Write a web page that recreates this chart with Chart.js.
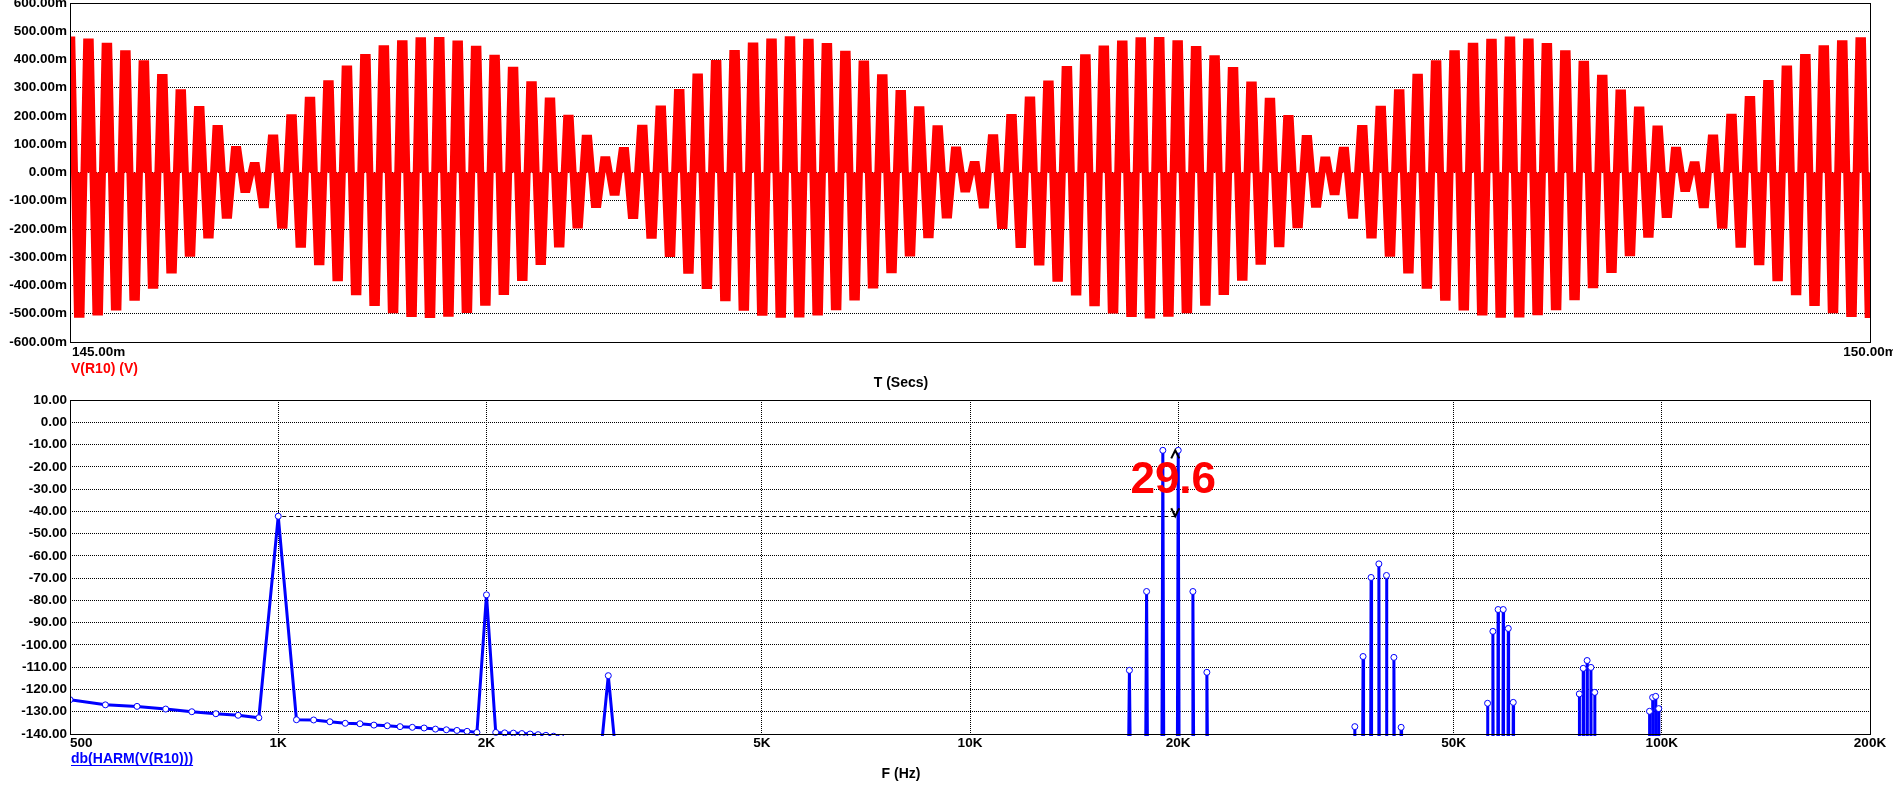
<!DOCTYPE html>
<html><head><meta charset="utf-8">
<script src="https://cdn.jsdelivr.net/npm/chart.js@4/dist/chart.umd.min.js"></script>
<style>
html,body{margin:0;padding:0;background:#fff;width:1893px;height:796px;overflow:hidden}
canvas{position:absolute;left:0}
#c1{top:0}
#c2{top:392px}
</style></head><body>
<canvas id="c1" width="1893" height="392"></canvas>
<canvas id="c2" width="1893" height="404"></canvas>
<script>
// ---------------- DATA: top panel, V(R10) transient (values in mV) ----------------
const timeStartMs = 145;
const timeEndMs = 150;
const timeTicksMs = [145, 150];
const voltTicksMv = [-600,-500,-400,-300,-200,-100,0,100,200,300,400,500,600];
const carrierPeriodMs = 0.05128;           // ~19.5 kHz carrier read from the lobe spacing
// positive lobe peaks (mV), one per carrier cycle
const posPeaks = [469,462,447,420,385,336,282,223,156,81,25,122,194,256,314,366,407,438,456,466,
 467,455,436,404,362,311,253,192,121,45,78,157,225,283,338,386,421,448,462,470,
 461,446,419,384,335,280,222,155,80,28,123,195,257,313,365,406,437,455,466,467,
 456,435,403,361,310,252,191,120,44,79,156,224,282,337,385,420,447,461,469,462,
 446,420,383,334,281,221,154,79,27,122,196,258,315,366,407,438,456,466];
// negative lobe peaks (mV), half a cycle after each positive one
const negPeaks = [-502,-494,-476,-442,-399,-345,-286,-221,-151,-60,-114,-187,-254,-316,-373,-422,-460,-486,-499,-503,
 -498,-485,-459,-421,-372,-315,-253,-186,-113,-70,-152,-222,-287,-346,-400,-443,-477,-495,-502,-501,
 -494,-475,-441,-398,-344,-285,-220,-150,-58,-115,-188,-255,-317,-374,-423,-461,-487,-499,-504,-498,
 -486,-459,-421,-371,-314,-252,-185,-112,-68,-151,-221,-286,-345,-399,-442,-476,-494,-502,-501,-493,
 -475,-440,-397,-343,-284,-219,-149,-57,-114,-187,-254,-316,-373,-422,-460,-486,-499,-503];

// ---------------- DATA: bottom panel, db(HARM(V(R10))) ----------------
const freqTicksHz = [500,1000,2000,5000,10000,20000,50000,100000,200000];
const freqTickLabels = ['500','1K','2K','5K','10K','20K','50K','100K','200K'];
const dbTicks = [10,0,-10,-20,-30,-40,-50,-60,-70,-80,-90,-100,-110,-120,-130,-140];
const harmFreqHz = [
 500,562.5,625,687.5,750,812.5,875,937.5,
 1000,1062.5,1125,1187.5,1250,1312.5,1375,1437.5,1500,1562.5,1625,1687.5,1750,1812.5,1875,1937.5,
 2000,2062.5,2125,2187.5,2250,2312.5,2375,2437.5,2500,2562.5,2625,
 2937.5,3000,3062.5,
 16937.5,17000,17062.5,17937.5,18000,18062.5,18937.5,19000,19062.5,19937.5,20000,20062.5,20937.5,21000,21062.5,21937.5,22000,22062.5,
 35937.5,36000,36062.5,36937.5,37000,37062.5,37937.5,38000,38062.5,38937.5,39000,39062.5,39937.5,40000,40062.5,40937.5,41000,41062.5,41937.5,42000,42062.5,
 55937.5,56000,56062.5,56937.5,57000,57062.5,57937.5,58000,58062.5,58937.5,59000,59062.5,59937.5,60000,60062.5,60937.5,61000,61062.5,
 75937.5,76000,76062.5,76937.5,77000,77062.5,77937.5,78000,78062.5,78937.5,79000,79062.5,79937.5,80000,80062.5,
 95937.5,96000,96062.5,96937.5,97000,97062.5,97937.5,98000,98062.5,98937.5,99000,99062.5
];
const harmDb = [
 -124.6,-126.9,-127.6,-128.8,-130.0,-130.9,-131.6,-132.7,
 -42.2,-133.6,-133.7,-134.5,-135.2,-135.4,-136.0,-136.3,-136.7,-137.0,-137.3,-137.8,-138.1,-138.4,-138.8,-139.3,
 -77.5,-139.3,-139.5,-139.6,-139.8,-140.0,-140.3,-140.6,-141.0,-141.5,-142.5,
 -143,-113.8,-143,
 -160,-111.4,-160,-160,-76.0,-160,-160,-12.6,-160,-160,-12.6,-160,-160,-76.0,-160,-160,-112.3,-160,
 -160,-136.7,-160,-160,-105.2,-160,-160,-69.7,-160,-160,-63.6,-160,-160,-68.8,-160,-160,-105.6,-160,-160,-137.0,-160,
 -160,-126.2,-160,-160,-93.9,-160,-160,-84.1,-160,-160,-84.1,-160,-160,-92.6,-160,-160,-125.8,-160,
 -160,-122.0,-160,-160,-110.5,-160,-160,-107.0,-160,-160,-110.1,-160,-160,-121.3,-160,
 -160,-129.8,-160,-160,-123.6,-160,-160,-123.1,-160,-160,-128.6,-160
];
// cursor annotation: reference level (1K) and measured peak (20K), difference label
const refPoint = [1000, -42.2];
const peakPoint = [20000, -12.6];
const deltaLabel = '29.6';

// ---------------- styling ----------------
const FAMILY = '"Liberation Sans", Arial, sans-serif';
const TICK_FONT = 'bold 13.5px ' + FAMILY;
const LABEL_FONT = 'bold 14px ' + FAMILY;
const plateauMs = 0.005;
Chart.defaults.font.family = FAMILY;

function drawText(ctx, txt, x, y, font, color, align) {
  ctx.save();
  ctx.font = font; ctx.fillStyle = color || '#000';
  ctx.textAlign = align || 'left'; ctx.textBaseline = 'middle';
  ctx.fillText(txt, x, y);
  ctx.restore();
}
const boxPlugin = {
  id: 'box',
  afterDatasetsDraw(chart) {
    const a = chart.chartArea, ctx = chart.ctx;
    ctx.save(); ctx.strokeStyle = '#000'; ctx.lineWidth = 1;
    ctx.strokeRect(Math.round(a.left) + 0.5, Math.round(a.top) + 0.5, Math.round(a.right - a.left), Math.round(a.bottom - a.top));
    ctx.restore();
  }
};
function yAxis(min, max, ticks, fmt) {
  return {
    type: 'linear', min, max,
    afterBuildTicks(s) { s.ticks = ticks.map(v => ({value: v})); },
    ticks: {callback: fmt, color: '#000', font: {family: FAMILY, size: 13.5, weight: 'bold'}, padding: 3, autoSkip: false},
    grid: {color: '#000', lineWidth: 1, drawTicks: false},
    border: {display: false, dash: [1, 1]},
    afterFit(s) { s.width = 70; s.paddingTop = 0; s.paddingBottom = 0; }
  };
}

// ---------------- top chart ----------------
const wave = [];
for (let k = 0; k < posPeaks.length; k++) {
  const tp = timeStartMs + k * carrierPeriodMs;
  wave.push({x: tp - plateauMs, y: posPeaks[k]}, {x: tp + plateauMs, y: posPeaks[k]});
  if (k < negPeaks.length) {
    const tn = tp + carrierPeriodMs / 2;
    wave.push({x: tn - plateauMs, y: negPeaks[k]}, {x: tn + plateauMs, y: negPeaks[k]});
  }
}
const topLabels = {
  id: 'topLabels',
  afterDraw(chart) {
    const ctx = chart.ctx, xs = chart.scales.x, b = chart.chartArea.bottom, l = chart.chartArea.left;
    const f = v => v.toFixed(2) + 'm';
    drawText(ctx, f(timeTicksMs[0]), xs.getPixelForValue(timeTicksMs[0]) + 2, b + 10, TICK_FONT, '#000', 'left');
    drawText(ctx, f(timeTicksMs[1]), xs.getPixelForValue(timeTicksMs[1]), b + 10, TICK_FONT, '#000', 'center');
    drawText(ctx, 'V(R10) (V)', l + 1, b + 27.5, LABEL_FONT, '#ff0000', 'left');
    drawText(ctx, 'T (Secs)', 901, b + 41, LABEL_FONT, '#000', 'center');
  }
};
new Chart(document.getElementById('c1'), {
  type: 'line',
  data: {datasets: [{
    data: wave, borderColor: '#ff0000', backgroundColor: '#ff0000', borderWidth: 7,
    pointRadius: 0, fill: 'origin', tension: 0, clip: 0
  }]},
  options: {
    responsive: false, animation: false, events: [], devicePixelRatio: 1,
    layout: {padding: {top: 3, right: 23, left: 0, bottom: 0}},
    plugins: {legend: {display: false}, tooltip: {enabled: false}, title: {display: false}},
    scales: {
      x: {type: 'linear', min: timeStartMs, max: timeEndMs,
          ticks: {display: false}, grid: {display: false, drawTicks: false}, border: {display: false},
          afterFit(s) { s.height = 50; s.paddingLeft = 0; s.paddingRight = 0; }},
      y: yAxis(-600, 600, voltTicksMv, v => v.toFixed(2) + 'm')
    }
  },
  plugins: [boxPlugin, topLabels]
});

// ---------------- bottom chart ----------------
const harmPoints = harmFreqHz.map((f, i) => ({x: f, y: harmDb[i]}));
const bottomLabels = {
  id: 'bottomLabels',
  afterDraw(chart) {
    const ctx = chart.ctx, xs = chart.scales.x, b = chart.chartArea.bottom, l = chart.chartArea.left;
    freqTicksHz.forEach((f, i) => {
      const px = xs.getPixelForValue(f);
      drawText(ctx, freqTickLabels[i], px, b + 9, TICK_FONT, '#000', i === 0 ? 'left' : 'center');
    });
    const txt = 'db(HARM(V(R10)))';
    drawText(ctx, txt, l + 1, b + 25, LABEL_FONT, '#0000ff', 'left');
    ctx.save(); ctx.font = LABEL_FONT;
    const w = ctx.measureText(txt).width;
    ctx.strokeStyle = '#0000ff'; ctx.lineWidth = 1;
    ctx.beginPath(); ctx.moveTo(l + 1, b + 31.5); ctx.lineTo(l + 1 + w, b + 31.5); ctx.stroke();
    ctx.restore();
    drawText(ctx, 'F (Hz)', 901, b + 40, LABEL_FONT, '#000', 'center');
  }
};
const annot = {
  id: 'annot',
  beforeDatasetsDraw(chart) {
    const {ctx, scales: {x, y}} = chart;
    const x1 = x.getPixelForValue(refPoint[0]) + 4;
    const x2 = x.getPixelForValue(peakPoint[0]) - 3;
    const yr = Math.round(y.getPixelForValue(refPoint[1])) + 0.5;
    ctx.save(); ctx.strokeStyle = '#000'; ctx.lineWidth = 1; ctx.setLineDash([4, 3]);
    ctx.beginPath(); ctx.moveTo(x1, yr); ctx.lineTo(x2, yr); ctx.stroke();
    ctx.restore();
  },
  afterDatasetsDraw(chart) {
    const {ctx, scales: {x, y}} = chart;
    const xa = x.getPixelForValue(peakPoint[0]) - 3;
    const yTop = y.getPixelForValue(peakPoint[1]);
    const yBot = y.getPixelForValue(refPoint[1]);
    ctx.save(); ctx.strokeStyle = '#000'; ctx.lineWidth = 2;
    ctx.beginPath();
    ctx.moveTo(xa - 4, yTop + 8); ctx.lineTo(xa, yTop); ctx.lineTo(xa + 4, yTop + 8);
    ctx.moveTo(xa - 4, yBot - 8); ctx.lineTo(xa, yBot); ctx.lineTo(xa + 4, yBot - 8);
    ctx.stroke();
    ctx.restore();
    const yMid = y.getPixelForValue((peakPoint[1] + refPoint[1]) / 2) - 2;
    drawText(ctx, deltaLabel, xa - 2, yMid, 'bold 44px ' + FAMILY, '#ff0000', 'center');
  }
};
new Chart(document.getElementById('c2'), {
  type: 'line',
  data: {datasets: [{
    data: harmPoints, borderColor: '#0000ff', borderWidth: 3, tension: 0, fill: false,
    pointRadius: 3, pointBorderWidth: 1, pointBackgroundColor: '#ffffff', pointBorderColor: '#0000ff',
    clip: {left: 0, right: 0, top: 5, bottom: 2}
  }]},
  options: {
    responsive: false, animation: false, events: [], devicePixelRatio: 1,
    layout: {padding: {top: 8, right: 23, left: 0, bottom: 0}},
    plugins: {legend: {display: false}, tooltip: {enabled: false}, title: {display: false}},
    scales: {
      x: {type: 'logarithmic', min: 500, max: 200000,
          afterBuildTicks(s) { s.ticks = freqTicksHz.map(v => ({value: v})); },
          ticks: {display: false},
          grid: {color: '#000', lineWidth: 1, drawTicks: false},
          border: {display: false, dash: [1, 1]},
          afterFit(s) { s.height = 62; s.paddingLeft = 0; s.paddingRight = 0; }},
      y: yAxis(-140, 10, dbTicks, v => v.toFixed(2))
    }
  },
  plugins: [annot, boxPlugin, bottomLabels]
});
</script>
</body></html>
